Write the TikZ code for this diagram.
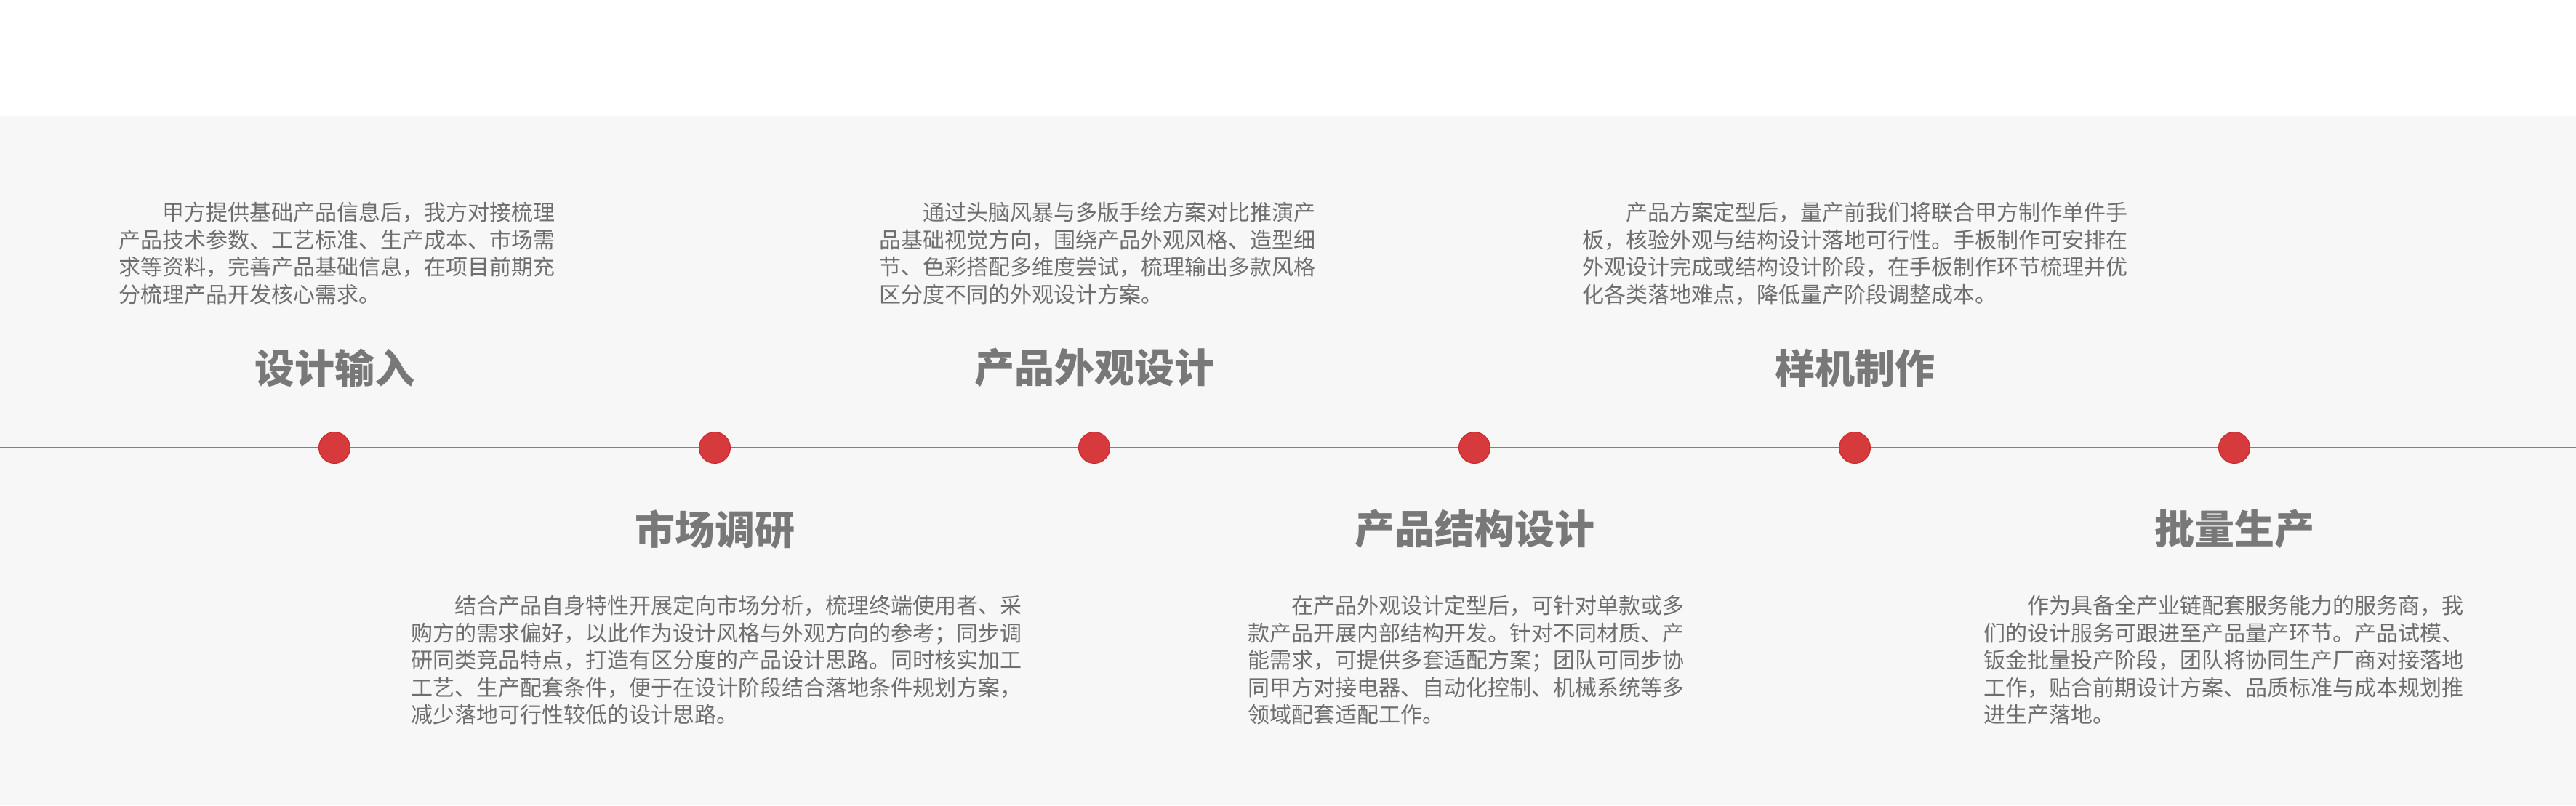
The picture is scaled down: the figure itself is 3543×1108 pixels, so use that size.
\documentclass[tikz,border=0pt]{standalone}
\usepackage{fontspec}
\newfontfamily\cjk{Noto Sans CJK SC}
\definecolor{bgc}{HTML}{F7F7F7}
\definecolor{linec}{HTML}{7F7F7F}
\definecolor{dotc}{HTML}{D63A3D}
\definecolor{dotb}{HTML}{C9282C}
\definecolor{titlec}{HTML}{787878}
\definecolor{bodyc}{HTML}{6E6E6E}
\begin{document}
\begin{tikzpicture}[x=1pt,y=-1pt,
  body/.style={anchor=north west, inner sep=0pt, align=left, text=bodyc, font=\cjk\fontsize{30}{37.5}\selectfont},
  ttl/.style={anchor=center, inner sep=0pt, text=titlec, font=\cjk\bfseries\fontsize{55}{60}\selectfont},
  dotn/.style={circle, fill=dotc, draw=dotb, line width=1pt, minimum size=43pt, inner sep=0pt},
  tl/.style={draw=linec, line width=2.5pt}]
\fill[white] (0,0) rectangle (3543,1108);
\fill[bgc] (0,160) rectangle (3543,1108);
\useasboundingbox (0,0) rectangle (3543,1108);
\coordinate (L) at (0,616);
\coordinate (R) at (3543,616);
\draw[tl] (L) -- (R);
\foreach \i/\x in {1/460,2/983,3/1505,4/2028,5/2551,6/3073}
  \node[dotn] (d\i) at (\x,616) {};
\node[ttl] (t1) at (460,506) {设计输入};
\node[ttl] (t2) at (983,728) {市场调研};
\node[ttl] (t3) at (1505,506) {产品外观设计};
\node[ttl] (t4) at (2028,728) {产品结构设计};
\node[ttl] (t5) at (2551,506) {样机制作};
\node[ttl] (t6) at (3073,728) {批量生产};
\node[body] (p1) at (163,278) {\hspace*{2em}甲方提供基础产品信息后，我方对接梳理\\产品技术参数、工艺标准、生产成本、市场需\\求等资料，完善产品基础信息，在项目前期充\\分梳理产品开发核心需求。};
\node[body] (p3) at (1209,278) {\hspace*{2em}通过头脑风暴与多版手绘方案对比推演产\\品基础视觉方向，围绕产品外观风格、造型细\\节、色彩搭配多维度尝试，梳理输出多款风格\\区分度不同的外观设计方案。};
\node[body] (p5) at (2176,278) {\hspace*{2em}产品方案定型后，量产前我们将联合甲方制作单件手\\板，核验外观与结构设计落地可行性。手板制作可安排在\\外观设计完成或结构设计阶段，在手板制作环节梳理并优\\化各类落地难点，降低量产阶段调整成本。};
\node[body] (p2) at (565,819) {\hspace*{2em}结合产品自身特性开展定向市场分析，梳理终端使用者、采\\购方的需求偏好，以此作为设计风格与外观方向的参考；同步调\\研同类竞品特点，打造有区分度的产品设计思路。同时核实加工\\工艺、生产配套条件，便于在设计阶段结合落地条件规划方案，\\减少落地可行性较低的设计思路。};
\node[body] (p4) at (1716,819) {\hspace*{2em}在产品外观设计定型后，可针对单款或多\\款产品开展内部结构开发。针对不同材质、产\\能需求，可提供多套适配方案；团队可同步协\\同甲方对接电器、自动化控制、机械系统等多\\领域配套适配工作。};
\node[body] (p6) at (2728,819) {\hspace*{2em}作为具备全产业链配套服务能力的服务商，我\\们的设计服务可跟进至产品量产环节。产品试模、\\钣金批量投产阶段，团队将协同生产厂商对接落地\\工作，贴合前期设计方案、品质标准与成本规划推\\进生产落地。};
\end{tikzpicture}
\end{document}
